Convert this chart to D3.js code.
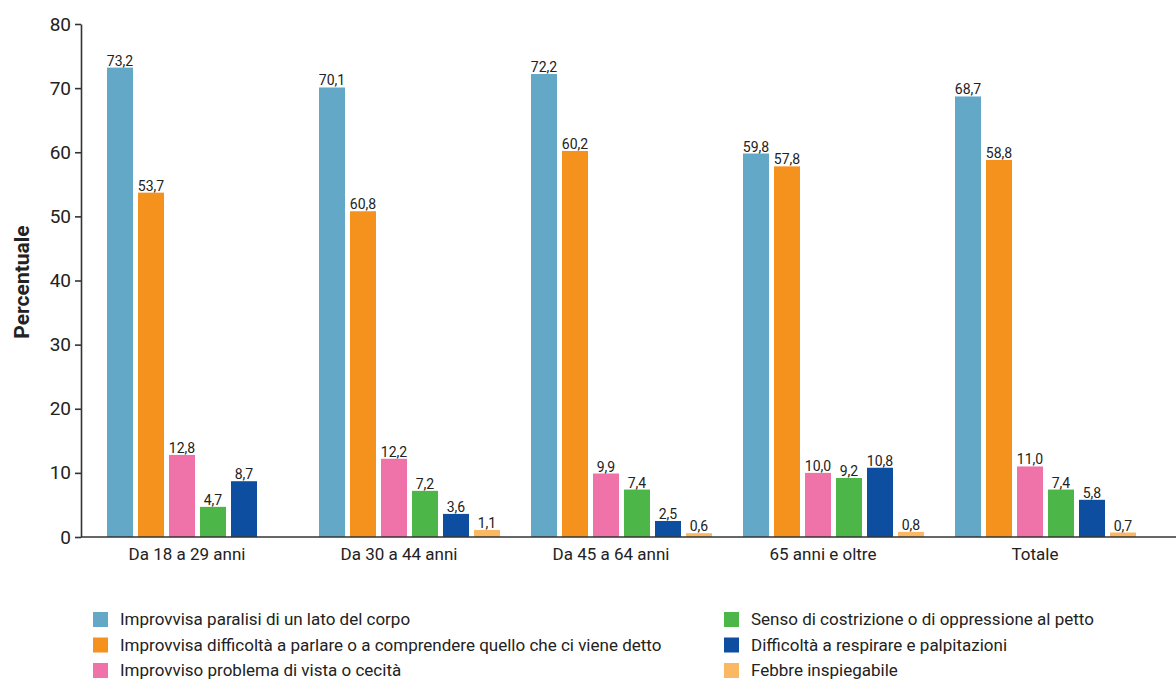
<!DOCTYPE html>
<html>
<head>
<meta charset="utf-8">
<script src="https://cdn.jsdelivr.net/npm/d3@7"></script>
<style>
  body { margin: 0; background: #fff; }
  text { font-family: Roboto, "Open Sans", sans-serif; fill: #222; }
</style>
</head>
<body>
<div id="chart"></div>
<script>
// categories and series
var groups = ["Da 18 a 29 anni", "Da 30 a 44 anni", "Da 45 a 64 anni", "65 anni e oltre", "Totale"];
var seriesNames = [
  "Improvvisa paralisi di un lato del corpo",
  "Improvvisa difficoltà a parlare o a comprendere quello che ci viene detto",
  "Improvviso problema di vista o cecità",
  "Senso di costrizione o di oppressione al petto",
  "Difficoltà a respirare e palpitazioni",
  "Febbre inspiegabile"
];
var seriesColors = ["#64a8c7", "#f5921e", "#ef72a8", "#4cb748", "#0d4ea0", "#fbb862"];

var paralisi     = [73.2, 70.1, 72.2, 59.8, 68.7];
var parlare      = [53.7, 60.8, 60.2, 57.8, 58.8];
var vista        = [12.8, 12.2, 9.9, 10.0, 11.0];
var petto        = [4.7, 7.2, 7.4, 9.2, 7.4];
var respirare    = [8.7, 3.6, 2.5, 10.8, 5.8];
var febbre       = [null, 1.1, 0.6, 0.8, 0.7];
// in the source the "Da 30 a 44" orange bar is drawn at about 50.8 though labelled 60,8
var parlareDrawn = [53.7, 50.8, 60.2, 57.8, 58.8];

var yTicks = [0, 10, 20, 30, 40, 50, 60, 70, 80];

var printed = [paralisi, parlare, vista, petto, respirare, febbre];
var drawn   = [paralisi, parlareDrawn, vista, petto, respirare, febbre];

var width = 1176, height = 680;
var fmt = function(v) { return d3.format(".1f")(v).replace(".", ","); };

var svg = d3.select("#chart").append("svg")
    .attr("width", width)
    .attr("height", height);

var x0 = d3.scaleBand().domain(groups).range([81, 1141]);
var x1 = d3.scaleBand().domain(d3.range(seriesNames.length))
    .range([26, 26 + 181]).paddingInner(5 / 31).paddingOuter(0);
var y = d3.scaleLinear().domain([0, 80]).range([537, 24]);

// bars
var cells = [];
groups.forEach(function(g, gi) {
  seriesNames.forEach(function(s, si) {
    if (drawn[si][gi] != null) {
      cells.push({ g: g, s: si, h: drawn[si][gi], label: fmt(printed[si][gi]) });
    }
  });
});

svg.append("g").selectAll("rect")
  .data(cells)
  .enter().append("rect")
    .attr("x", function(d) { return x0(d.g) + x1(d.s); })
    .attr("width", x1.bandwidth())
    .attr("y", function(d) { return y(d.h); })
    .attr("height", function(d) { return y(0) - y(d.h); })
    .attr("fill", function(d) { return seriesColors[d.s]; });

svg.append("g").selectAll("text")
  .data(cells)
  .enter().append("text")
    .attr("x", function(d) { return x0(d.g) + x1(d.s) + x1.bandwidth() / 2; })
    .attr("y", function(d) { return y(d.h) - 2; })
    .attr("text-anchor", "middle")
    .style("font-size", "14px")
    .text(function(d) { return d.label; });

// y axis
var yAxis = svg.append("g")
    .attr("transform", "translate(81,0)")
    .call(d3.axisLeft(y).tickValues(yTicks).tickSize(6).tickSizeOuter(0).tickPadding(4));
yAxis.select(".domain").attr("stroke", "#333").attr("stroke-width", 1.6);
yAxis.selectAll(".tick line").attr("stroke", "#333").attr("stroke-width", 1.6);
yAxis.selectAll(".tick text").style("font-size", "19px").attr("fill", "#222");

// x axis
var xAxis = svg.append("g")
    .attr("transform", "translate(0,537)")
    .call(d3.axisBottom(x0).tickSize(0).tickPadding(8));
xAxis.select(".domain").attr("d", "M81,0H1176").attr("stroke", "#333").attr("stroke-width", 1.6);
xAxis.selectAll(".tick text").style("font-size", "17px").attr("fill", "#222").attr("dy", "0.9em");

svg.append("text")
    .attr("transform", "translate(29,282) rotate(-90)")
    .attr("text-anchor", "middle")
    .style("font-size", "21px")
    .style("font-weight", "bold")
    .text("Percentuale");

// legend
var legend = svg.append("g").selectAll("g")
  .data(seriesNames)
  .enter().append("g")
    .attr("transform", function(d, i) {
      var col = Math.floor(i / 3), row = i % 3;
      return "translate(" + (col === 0 ? 93 : 724) + "," + (612 + row * 25.5) + ")";
    });

legend.append("rect")
    .attr("width", 15)
    .attr("height", 15)
    .attr("fill", function(d, i) { return seriesColors[i]; });

legend.append("text")
    .attr("x", 27)
    .attr("y", 13)
    .style("font-size", "17px")
    .text(function(d) { return d; });
</script>
</body>
</html>
